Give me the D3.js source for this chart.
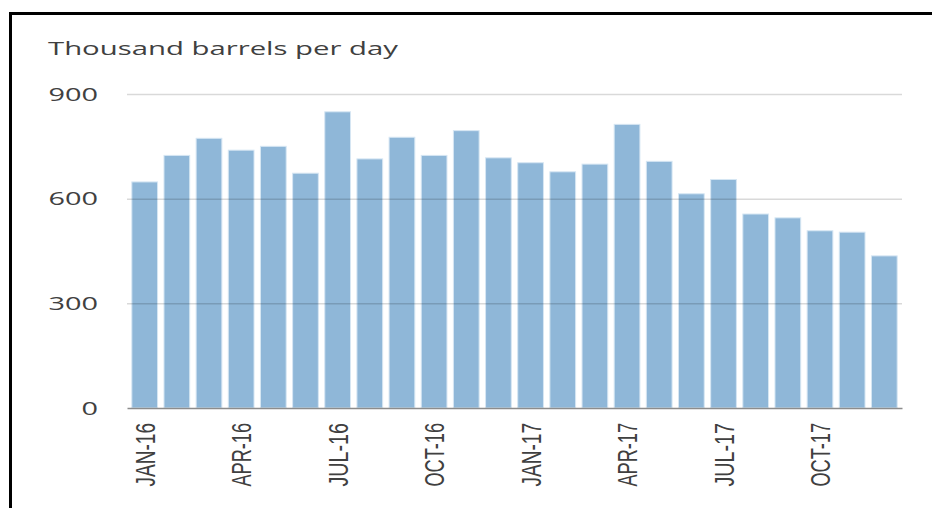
<!DOCTYPE html>
<html>
<head>
<meta charset="utf-8">
<script src="https://cdn.jsdelivr.net/npm/d3@7"></script>
<style>
  html, body { margin: 0; padding: 0; background: #fff; }
  svg { display: block; }
</style>
</head>
<body>
<div id="chart"></div>
<script>
// Monthly data, Jan 2016 - Dec 2017 (thousand barrels per day)
const months = [
  "JAN-16","FEB-16","MAR-16","APR-16","MAY-16","JUN-16",
  "JUL-16","AUG-16","SEP-16","OCT-16","NOV-16","DEC-16",
  "JAN-17","FEB-17","MAR-17","APR-17","MAY-17","JUN-17",
  "JUL-17","AUG-17","SEP-17","OCT-17","NOV-17","DEC-17"
];
const values = [
  648, 724, 773, 739, 750, 673,
  849, 714, 776, 724, 795, 717,
  703, 677, 699, 813, 707, 614,
  655, 556, 545, 508, 504, 436
];
const xTickLabels = ["JAN-16","APR-16","JUL-16","OCT-16","JAN-17","APR-17","JUL-17","OCT-17"];
const yTicks = [0, 300, 600, 900];

const W = 932, H = 508;
const svg = d3.select("#chart").append("svg")
  .attr("width", W)
  .attr("height", H);

// frame
svg.append("rect")
  .attr("x", 10.5).attr("y", 13.5)
  .attr("width", 1000).attr("height", 600)
  .attr("fill", "none")
  .attr("stroke", "#000")
  .attr("stroke-width", 3);

// scales
const x = d3.scaleBand()
  .domain(months)
  .range([127, 902])
  .paddingInner(0.2)
  .paddingOuter(0.15);

const y = d3.scaleLinear()
  .domain([0, 900])
  .range([408, 94]);

// title
svg.append("text")
  .attr("x", 48)
  .attr("y", 55)
  .attr("textLength", 350)
  .attr("lengthAdjust", "spacingAndGlyphs")
  .style("font-family", "'Open Sans', Lato, sans-serif")
  .style("font-size", "17.5px")
  .style("fill", "#404040")
  .text("Thousand barrels per day");

// bars
svg.append("g")
  .selectAll("rect")
  .data(values)
  .enter()
  .append("rect")
  .attr("x", (d, i) => x(months[i]))
  .attr("y", d => y(d))
  .attr("width", x.bandwidth())
  .attr("height", d => y(0) - y(d))
  .attr("fill", "#8fb7d8")
  .attr("stroke", "#d6e6f3")
  .attr("stroke-width", 1);

// y axis with grid lines (drawn over the bars)
const yAxis = svg.append("g")
  .attr("transform", "translate(127,0)")
  .call(d3.axisLeft(y).tickValues(yTicks).tickSize(0).tickPadding(29));

yAxis.select(".domain").remove();
yAxis.selectAll(".tick").filter(d => d !== 0)
  .append("line")
  .attr("x1", 0).attr("x2", 775)
  .attr("stroke", "rgba(0,0,0,0.15)")
  .attr("stroke-width", 1.5);

yAxis.selectAll("text")
  .attr("dy", "0.36em")
  .attr("textLength", d => String(d).length * 16.5)
  .attr("lengthAdjust", "spacingAndGlyphs")
  .style("font-family", "'Open Sans', Lato, sans-serif")
  .style("font-size", "17.5px")
  .style("fill", "#404040");

// x axis
const xAxis = svg.append("g")
  .attr("transform", `translate(0,${y(0)})`)
  .call(d3.axisBottom(x).tickValues(xTickLabels).tickSize(0).tickPadding(0));

xAxis.select(".domain")
  .attr("stroke", "#8c8c8c")
  .attr("stroke-width", 1.5);

xAxis.selectAll("text")
  .attr("transform", "rotate(-90)")
  .attr("x", -15)
  .attr("y", 0)
  .attr("dy", "0.36em")
  .attr("text-anchor", "end")
  .attr("textLength", d => d.length * 10.6)
  .attr("lengthAdjust", "spacingAndGlyphs")
  .style("font-family", "'Liberation Sans Narrow', 'Liberation Sans', Arial, sans-serif")
  .style("font-size", "28px")
  .style("fill", "#404040");
</script>
</body>
</html>
